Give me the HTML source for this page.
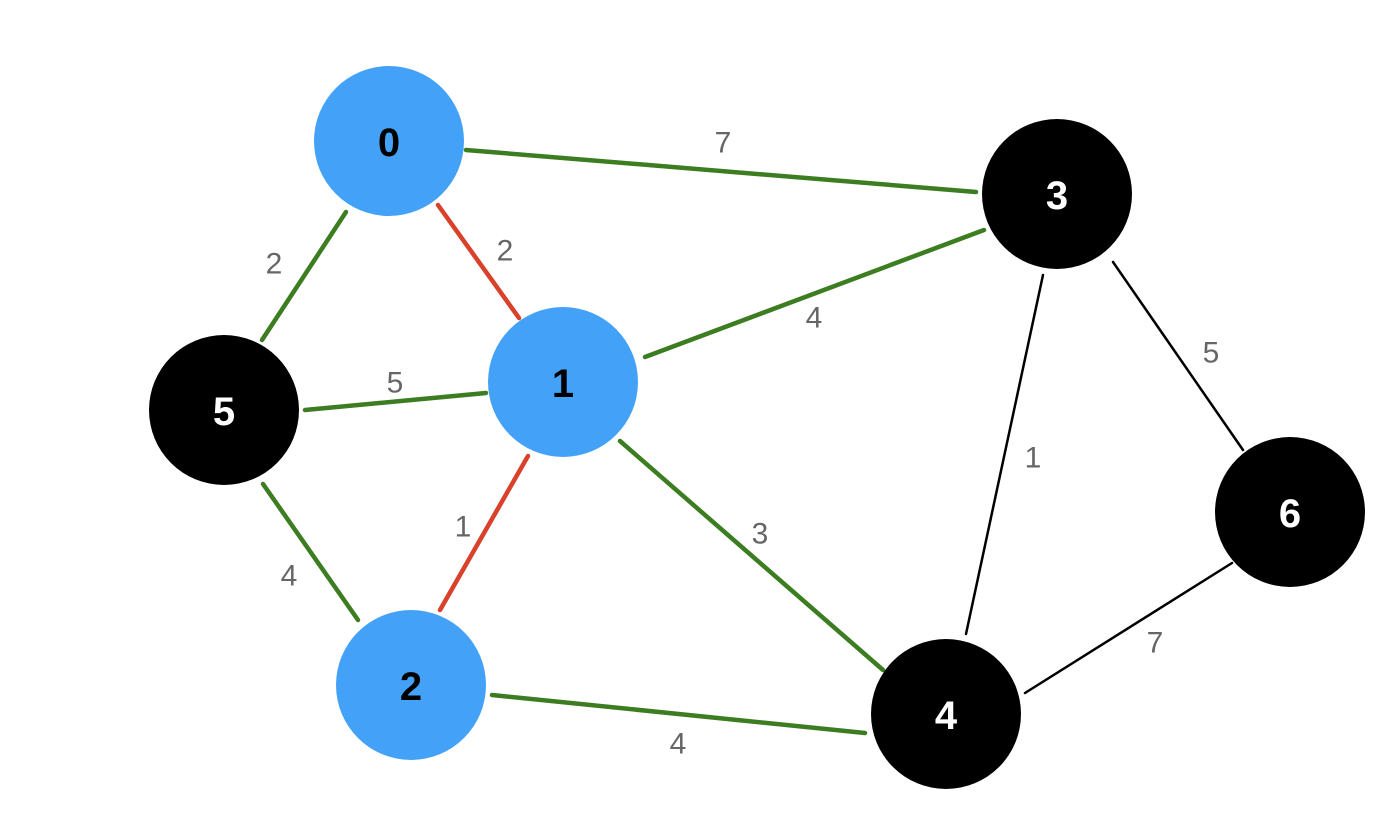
<!DOCTYPE html>
<html><head><meta charset="utf-8"><style>
html,body{margin:0;padding:0;background:#fff;}
svg{display:block;}
.l{font-family:"Liberation Sans",sans-serif;font-size:30px;fill:#666;text-anchor:middle;dominant-baseline:central;}
.n{font-family:"Liberation Sans",sans-serif;font-size:40px;font-weight:bold;text-anchor:middle;dominant-baseline:central;}
</style></head><body>
<svg width="1400" height="840" viewBox="0 0 1400 840" xmlns="http://www.w3.org/2000/svg">
<g stroke-linecap="round">
<g stroke="#3d7d22" stroke-width="4.5">
<line x1="466" y1="150" x2="976" y2="192"/>
<line x1="346" y1="212" x2="262" y2="340"/>
<line x1="305" y1="410" x2="486" y2="393"/>
<line x1="645" y1="357" x2="984" y2="230"/>
<line x1="263" y1="484" x2="358" y2="620"/>
<line x1="620" y1="441" x2="883" y2="670"/>
<line x1="492" y1="695" x2="865" y2="733"/>
</g>
<g stroke="#d9412b" stroke-width="4.5">
<line x1="438" y1="205" x2="519" y2="318"/>
<line x1="528" y1="456" x2="440" y2="610"/>
</g>
<g stroke="#000" stroke-width="2.5">
<line x1="1043" y1="275" x2="966" y2="634"/>
<line x1="1113" y1="262" x2="1243" y2="450"/>
<line x1="1232" y1="563" x2="1025" y2="693"/>
</g>
</g>
<text class="l" x="723" y="143">7</text>
<text class="l" x="505" y="251">2</text>
<text class="l" x="274" y="264">2</text>
<text class="l" x="395" y="383">5</text>
<text class="l" x="814" y="318">4</text>
<text class="l" x="463" y="527">1</text>
<text class="l" x="289" y="576">4</text>
<text class="l" x="760" y="534">3</text>
<text class="l" x="678" y="744">4</text>
<text class="l" x="1033" y="458">1</text>
<text class="l" x="1211" y="353">5</text>
<text class="l" x="1155" y="643">7</text>
<g>
<circle cx="389" cy="141" r="75" fill="#43a2f7"/>
<circle cx="563" cy="382" r="75" fill="#43a2f7"/>
<circle cx="411" cy="685" r="75" fill="#43a2f7"/>
<circle cx="1057" cy="194" r="75" fill="#000"/>
<circle cx="946" cy="714" r="75" fill="#000"/>
<circle cx="224" cy="410" r="75" fill="#000"/>
<circle cx="1290" cy="512" r="75" fill="#000"/>
</g>
<text class="n" x="389" y="143" fill="#000">0</text>
<text class="n" x="563" y="384" fill="#000">1</text>
<text class="n" x="411" y="687" fill="#000">2</text>
<text class="n" x="1057" y="196" fill="#fff">3</text>
<text class="n" x="946" y="716" fill="#fff">4</text>
<text class="n" x="224" y="412" fill="#fff">5</text>
<text class="n" x="1290" y="514" fill="#fff">6</text>
</svg>
</body></html>
